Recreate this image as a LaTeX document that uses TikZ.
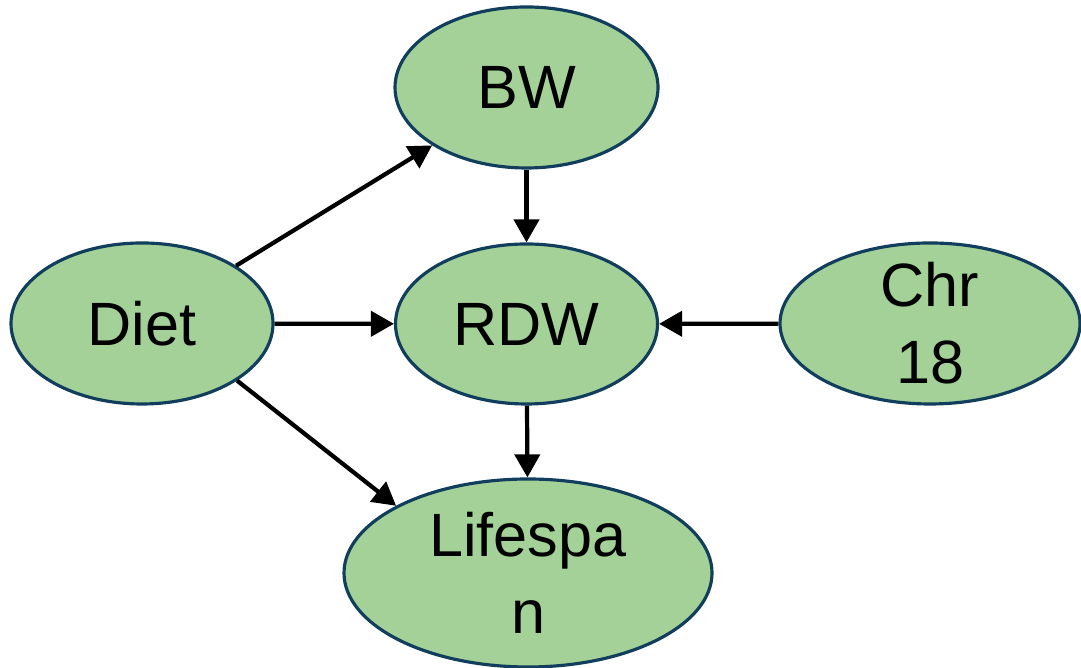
\documentclass[tikz,border=0pt]{standalone}
\usepackage{fontspec}
\setmainfont{Liberation Sans}
\usepackage{tikz}
\usetikzlibrary{shapes.geometric, arrows.meta}

\definecolor{bubblefill}{RGB}{163,209,151}
\definecolor{bubbleline}{RGB}{17,62,92}

\begin{document}
\begin{tikzpicture}[
    bubble/.style={ellipse, draw=bubbleline, fill=bubblefill, line width=0.9pt, inner sep=0pt},
    bubbletext/.style={align=center, inner sep=0pt, font=\fontsize{17.4}{21.9}\selectfont},
    link/.style={-{Triangle[length=0.23cm, width=0.25cm]}, line width=1.2pt}
]
    \useasboundingbox (0,0) rectangle (10.81,6.68);

    \node[bubble, minimum width=2.63cm, minimum height=1.61cm] (bw) at (5.265,5.805) {};
    \node[bubble, minimum width=2.62cm, minimum height=1.61cm] (diet) at (1.42,3.445) {};
    \node[bubble, minimum width=2.62cm, minimum height=1.60cm] (rdw) at (5.265,3.44) {};
    \node[bubble, minimum width=3.00cm, minimum height=1.61cm] (chr) at (9.30,3.445) {};
    \node[bubble, minimum width=3.68cm, minimum height=1.88cm] (life) at (5.28,0.95) {};

    \node[bubbletext] (bwtext) at (bw) {BW};
    \node[bubbletext] (diettext) at (diet) {Diet};
    \node[bubbletext] (rdwtext) at (rdw) {RDW};
    \node[bubbletext] (chrtext) at (chr) {Chr\\18};
    \node[bubbletext] (lifetext) at (life) {Lifespa\\n};

    \draw[link] (diet) -- (bw);
    \draw[link] (diet) -- (rdw);
    \draw[link] (diet.-31) -- (life.153);
    \draw[link] (bw) -- (rdw);
    \draw[link] (chr) -- (rdw);
    \draw[link] (rdw) -- (life);
\end{tikzpicture}
\end{document}
